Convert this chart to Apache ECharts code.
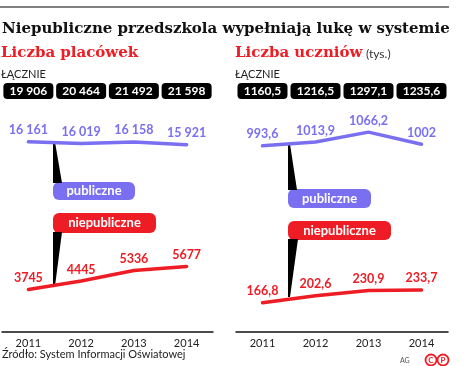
<!DOCTYPE html>
<html><head><meta charset="utf-8">
<script src="https://cdn.jsdelivr.net/npm/echarts@6/dist/echarts.min.js"></script>
<style>html,body{margin:0;padding:0;background:#fff}#c{width:476px;height:366px}</style>
</head><body><div id="c"></div>
<script>
var years = ['2011','2012','2013','2014'];
var placowkiTotal = [19906, 20464, 21492, 21598];
var placowkiPubliczne = [16161, 16019, 16158, 15921];
var placowkiNiepubliczne = [3745, 4445, 5336, 5677];
var uczniowieTotal = [1160.5, 1216.5, 1297.1, 1235.6];
var uczniowiePubliczne = [993.6, 1013.9, 1066.2, 1002];
var uczniowieNiepubliczne = [166.8, 202.6, 230.9, 233.7];

var BLUE = '#7a6ff0', RED = '#ee1c24';
var F = 'Lato, "Open Sans", sans-serif';
var SERIF = '"DejaVu Serif", serif';
function fmtInt(v){ return v >= 10000 ? String(v).replace(/\B(?=(\d{3})+(?!\d))/g, ' ') : String(v); }
function fmtDec(v){ return String(v).replace('.', ','); }

function bottomAxis(gi){
  return {type:'category', gridIndex:gi, data:years, position:'bottom',
    axisLine:{lineStyle:{color:'#111', width:1.5}},
    axisTick:{inside:true, length:4, lineStyle:{color:'#111', width:1.2}},
    axisLabel:{color:'#222', fontSize:11, fontFamily:F, margin:6}};
}
function topAxis(gi, totals, fmt){
  return {type:'category', gridIndex:gi, data:years, position:'top',
    axisLine:{show:false}, axisTick:{show:false},
    axisLabel:{margin:21, formatter:function(v,i){return fmt(totals[i]);},
      color:'#fff', fontWeight:'bold', fontSize:12, fontFamily:F,
      backgroundColor:'#000', borderRadius:4, width:50, height:12, lineHeight:12,
      padding:[2,0,2,0], align:'center', interval:0}};
}
function lineSeries(xi, data, color, fmt){
  return {type:'line', xAxisIndex:xi, yAxisIndex:xi, data:data,
    symbol:'circle', symbolSize:2, showSymbol:true, itemStyle:{color:color},
    lineStyle:{color:color, width:3.5, cap:'round'}, z:3,
    label:{show:true, position:'top', distance:4, color:color, fontWeight:'bold',
      fontSize:12.5, fontFamily:F, formatter:function(p){return fmt(p.value);}}};
}
function callout(x, y, w, h, txt, color){
  return {type:'group', children:[
    {type:'rect', shape:{x:x, y:y, width:w, height:h, r:6}, style:{fill:color}},
    {type:'text', x:x+w/2, y:y+h/2, style:{text:txt, fill:'#fff', font:'bold 13px '+F, textAlign:'center', textVerticalAlign:'middle'}}
  ]};
}
function poly(pts){ return {type:'polygon', z:1, shape:{points:pts}, style:{fill:'#000'}}; }

var chart = echarts.init(document.getElementById('c'));
chart.setOption({
  animation:false,
  grid:[{left:2, width:211, top:120, height:212},{left:236, width:212, top:120, height:212}],
  xAxis:[bottomAxis(0), bottomAxis(1),
    topAxis(0, placowkiTotal, fmtInt), topAxis(1, uczniowieTotal, fmtDec)],
  yAxis:[{type:'value', gridIndex:0, min:160, max:18000, show:false},
         {type:'value', gridIndex:1, min:12, max:1130, show:false}],
  series:[
    lineSeries(0, placowkiPubliczne, BLUE, fmtInt),
    lineSeries(0, placowkiNiepubliczne, RED, fmtInt),
    lineSeries(1, uczniowiePubliczne, BLUE, fmtDec),
    lineSeries(1, uczniowieNiepubliczne, RED, fmtDec)
  ],
  graphic:[
    {type:'line', shape:{x1:0, y1:7, x2:449, y2:7}, style:{stroke:'#808080', lineWidth:2}},
    {type:'text', x:2, y:29, style:{text:'Niepubliczne przedszkola wypełniają lukę w systemie', fill:'#111', font:'bold 15px '+SERIF, textVerticalAlign:'middle'}},
    {type:'text', x:1, y:53, style:{text:'Liczba placówek', fill:RED, font:'bold 15px '+SERIF, textVerticalAlign:'middle'}},
    {type:'text', x:235, y:53, style:{text:'Liczba uczniów', fill:RED, font:'bold 15px '+SERIF, textVerticalAlign:'middle'}},
    {type:'text', x:366, y:54, style:{text:'(tys.)', fill:'#333', font:'12px '+F, textVerticalAlign:'middle'}},
    {type:'text', x:1, y:74, style:{text:'ŁĄCZNIE', fill:'#222', font:'11px '+F, textVerticalAlign:'middle'}},
    {type:'text', x:235, y:74, style:{text:'ŁĄCZNIE', fill:'#222', font:'11px '+F, textVerticalAlign:'middle'}},
    poly([[53,142],[55,142],[62,183],[53,183]]),
    poly([[53,232],[62,232],[55,286],[53,286]]),
    poly([[288,144],[290,144],[297,190],[288,190]]),
    poly([[288,239],[298,239],[290,297],[288,297]]),
    callout(53, 182, 82, 18, 'publiczne', BLUE),
    callout(53, 213, 103, 20, 'niepubliczne', RED),
    callout(288, 189, 83, 19, 'publiczne', BLUE),
    callout(288, 221, 103, 19, 'niepubliczne', RED),
    {type:'text', x:2, y:354, style:{text:'Źródło: System Informacji Oświatowej', fill:'#222', font:'11px '+F, textVerticalAlign:'middle'}},
    {type:'text', x:400, y:361, style:{text:'AG', fill:'#555', font:'7px '+F, textVerticalAlign:'middle'}},
    {type:'circle', shape:{cx:431, cy:360, r:5.5}, style:{fill:'#fff', stroke:RED, lineWidth:1.8}},
    {type:'text', x:431, y:360.5, style:{text:'C', fill:RED, font:'bold 8px '+F, textAlign:'center', textVerticalAlign:'middle'}},
    {type:'circle', shape:{cx:443, cy:360, r:5.5}, style:{fill:'#fff', stroke:RED, lineWidth:1.8}},
    {type:'text', x:443, y:360.5, style:{text:'P', fill:RED, font:'bold 8px '+F, textAlign:'center', textVerticalAlign:'middle'}}
  ]
});
</script></body></html>
